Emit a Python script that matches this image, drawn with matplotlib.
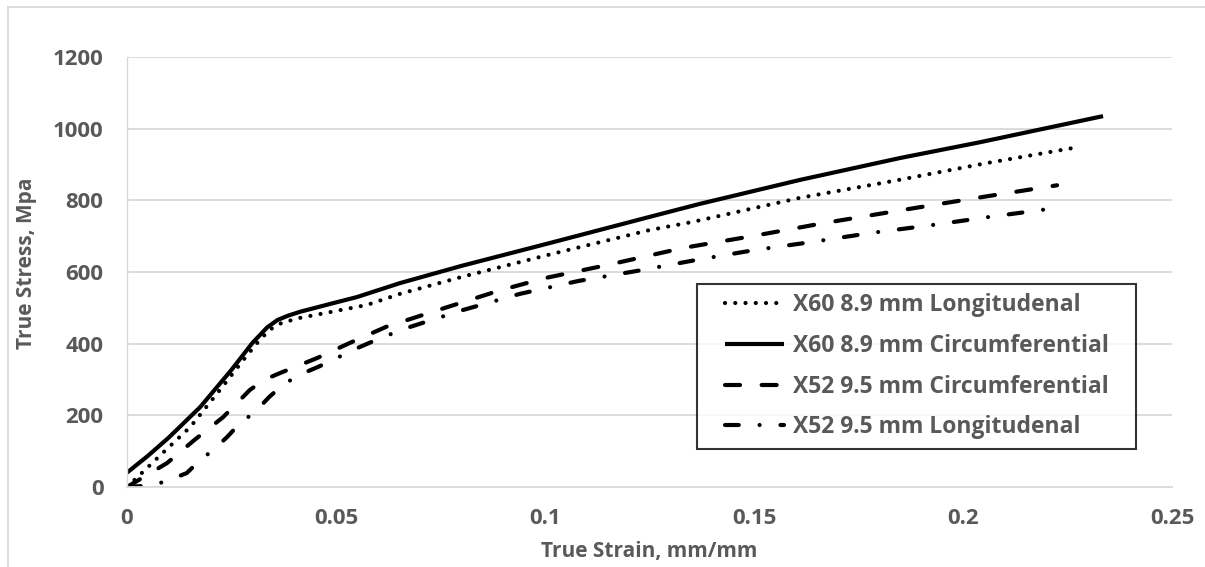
import matplotlib
matplotlib.use("Agg")
import matplotlib.pyplot as plt
from matplotlib.lines import Line2D
from matplotlib.legend_handler import HandlerLine2D

# ---- data ----
x60_long_strain = [0, 0.0038, 0.0090, 0.0151, 0.0215, 0.0278, 0.031, 0.034, 0.037, 0.0414, 0.049,
                   0.0574, 0.0653, 0.080, 0.1005, 0.125, 0.1354, 0.161, 0.1833, 0.2057, 0.2263]
x60_long_stress = [0, 42, 100, 167, 260, 354, 400, 438, 458, 472, 489,
                   508, 539, 586, 647, 717, 740, 807, 854, 904, 946]

x60_circ_strain = [0, 0.005, 0.010, 0.0175, 0.025, 0.030, 0.0335, 0.036, 0.0385, 0.0414, 0.0493,
                   0.055, 0.0653, 0.080, 0.1012, 0.1251, 0.137, 0.161, 0.1849, 0.204, 0.2335]
x60_circ_stress = [40, 87, 138, 223, 327, 402, 445, 466, 478, 489, 513,
                   530, 569, 617, 681, 754, 790, 857, 918, 962, 1035]

x52_circ_strain = [0, 0.0096, 0.016, 0.023, 0.0294, 0.033, 0.0366, 0.0455, 0.0533, 0.062, 0.0718,
                   0.089, 0.1, 0.1155, 0.133, 0.151, 0.166, 0.185, 0.2045, 0.2225]
x52_circ_stress = [0, 67, 130, 195, 271, 300, 318, 360, 402, 447, 484,
                   548, 583, 621, 667, 703, 735, 772, 809, 842]

x52_long_strain = [0, 0.004, 0.009, 0.0143, 0.0175, 0.0206, 0.024, 0.027, 0.0306, 0.034, 0.0373,
                   0.0412, 0.0457, 0.0502, 0.054, 0.0605, 0.067, 0.0804, 0.094, 0.108, 0.122,
                   0.1364, 0.150, 0.164, 0.178, 0.1926, 0.2065, 0.2206]
x52_long_stress = [0, 3, 14, 39, 75, 103, 140, 178, 209, 251, 285,
                   313, 335, 360, 382, 415, 444, 494, 539, 575, 603,
                   634, 661, 684, 709, 731, 754, 776]

labels = ["X60 8.9 mm Longitudenal", "X60 8.9 mm Circumferential",
          "X52 9.5 mm Circumferential", "X52 9.5 mm Longitudenal"]

x_ticks = [0, 0.05, 0.1, 0.15, 0.2, 0.25]
x_tick_labels = ["0", "0.05", "0.1", "0.15", "0.2", "0.25"]
y_ticks = [0, 200, 400, 600, 800, 1000, 1200]

# ---- figure ----
plt.rcParams['font.family'] = ['Open Sans', 'DejaVu Sans']
TXT = "#595959"
GRID = "#d9d9d9"
FS_TICK = 16
FS_LAB = 15
FS_LEG = 16.5

fig = plt.figure(figsize=(12.05, 5.67), dpi=100)
ax = fig.add_axes([127/1205, 1-487/567, (1172-127)/1205, (487-57)/567])

lw = 3.0
ax.plot(x60_long_strain, x60_long_stress, color="black", lw=lw,
        linestyle=(0, (0.01, 2.45)), dash_capstyle="round", label=labels[0])
ax.plot(x60_circ_strain, x60_circ_stress, color="black", lw=lw,
        linestyle="-", solid_capstyle="butt", label=labels[1])
ax.plot(x52_circ_strain, x52_circ_stress, color="black", lw=lw,
        linestyle=(0, (3.6, 5.2)), dash_capstyle="round", label=labels[2])
ax.plot(x52_long_strain, x52_long_stress, color="black", lw=lw,
        linestyle=(0, (3.3, 5.0, 0.01, 5.0)), dash_capstyle="round", label=labels[3])

ax.set_xlim(0, 0.25)
ax.set_ylim(0, 1200)
ax.set_xticks(x_ticks)
ax.set_xticklabels(x_tick_labels)
ax.set_yticks(y_ticks)
ax.yaxis.grid(True, color=GRID, lw=1.3)
ax.xaxis.grid(False)
ax.set_axisbelow(True)
ax.tick_params(axis="y", length=0, pad=17, labelsize=FS_TICK, labelcolor=TXT)
ax.tick_params(axis="x", length=0, pad=15, labelsize=FS_TICK, labelcolor=TXT)
for t in ax.get_xticklabels() + ax.get_yticklabels():
    t.set_fontweight("bold")
for s in ["top", "right"]:
    ax.spines[s].set_visible(False)
ax.spines["bottom"].set_color(GRID)
ax.spines["bottom"].set_linewidth(1.3)
ax.spines["left"].set_color(GRID)
ax.spines["left"].set_linewidth(1.0)

ax.set_xlabel("True Strain, mm/mm", fontsize=FS_LAB, fontweight="bold", color=TXT)
ax.set_ylabel("True Stress, Mpa", fontsize=FS_LAB, fontweight="bold", color=TXT)
ax.xaxis.set_label_coords(0.5, (487-551)/430)
ax.yaxis.set_label_coords((27-127)/1045, (487-263)/430)
ax.xaxis.label.set_va("center")
ax.yaxis.label.set_va("center")

hmap = {h: HandlerLine2D(xpad=0.84) for h in ax.get_lines()}
leg = ax.legend(loc="upper left",
                bbox_to_anchor=(697/1205, 1-284/567 - 0.01, (1136-697)/1205, 0.01),
                bbox_transform=fig.transFigure, mode="expand", handler_map=hmap,
                fontsize=FS_LEG, frameon=True, fancybox=False, handlelength=3.39,
                handletextpad=0.4, labelspacing=0.73, borderpad=0.4, borderaxespad=0)
leg.get_frame().set_edgecolor("black")
leg.get_frame().set_linewidth(1.5)
for t in leg.get_texts():
    t.set_color(TXT)
    t.set_fontweight("bold")

# outer chart border
fig.add_artist(Line2D([8/1205, 8/1205], [0, 1-7/567], transform=fig.transFigure,
                      color=GRID, lw=1.3))
fig.add_artist(Line2D([8/1205, 1], [1-7/567, 1-7/567], transform=fig.transFigure,
                      color=GRID, lw=1.3))

fig.savefig("out.png", dpi=100)
